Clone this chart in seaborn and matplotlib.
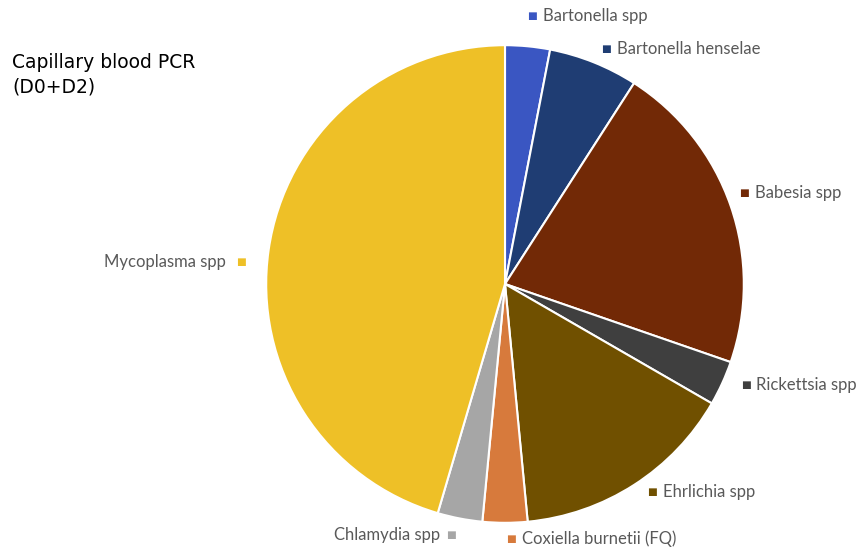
import matplotlib
matplotlib.use("Agg")
import matplotlib.pyplot as plt
import seaborn as sns

sns.set_style("white")
plt.rcParams["font.family"] = ["Lato", "DejaVu Sans"]

# Positive samples per pathogen (capillary blood PCR, D0 + D2)
categories = ["Bartonella spp", "Bartonella henselae", "Babesia spp", "Rickettsia spp",
              "Ehrlichia spp", "Coxiella burnetii (FQ)", "Chlamydia spp", "Mycoplasma spp"]
counts = [1, 2, 7, 1, 5, 1, 1, 15]
colors = ["#3A56C2", "#1F3D73", "#722906", "#3F3F3F",
          "#705000", "#D77A3C", "#A6A6A6", "#EEC027"]

W, H = 861, 550
fig = plt.figure(figsize=(W / 100, H / 100), dpi=100)

# Pie axes: centre (505, 284) px, radius ~239 px
cx, cy, R = 505, 284, 240
ax = fig.add_axes([(cx - R) / W, (H - cy - R) / H, 2 * R / W, 2 * R / H])
ax.pie(counts, colors=colors, startangle=90, counterclock=False, radius=0.995,
       wedgeprops=dict(edgecolor="white", linewidth=1.5))
ax.set_xlim(-1, 1)
ax.set_ylim(-1, 1)
ax.set_aspect("equal")
ax.axis("off")

# Label layout in pixels: text anchor x, y, alignment, legend-key x
label_layout = {
    "Bartonella spp": (543, 16, "left", 532),
    "Bartonella henselae": (617, 49, "left", 606),
    "Babesia spp": (755, 193, "left", 744),
    "Rickettsia spp": (756, 385, "left", 746),
    "Ehrlichia spp": (663, 492, "left", 652),
    "Coxiella burnetii (FQ)": (522, 539, "left", 511),
    "Chlamydia spp": (440, 535, "right", 451),
    "Mycoplasma spp": (226, 262, "right", 241),
}

label_color = "#595959"
for name, col in zip(categories, colors):
    x, y, side, mx = label_layout[name]
    fig.text(x / W, 1 - y / H, name, ha=side, va="center", fontsize=12,
             color=label_color)
    fig.text(mx / W, 1 - y / H, "\u25A0", ha="center", va="center", fontsize=7.5,
             color=col, family="DejaVu Sans")

fig.text(12 / W, 1 - 75 / H, "Capillary blood PCR\n(D0+D2)", ha="left", va="center",
         fontsize=13.5, color="black", family="DejaVu Sans", linespacing=1.35)

fig.savefig("out.png", dpi=100, facecolor="white")
